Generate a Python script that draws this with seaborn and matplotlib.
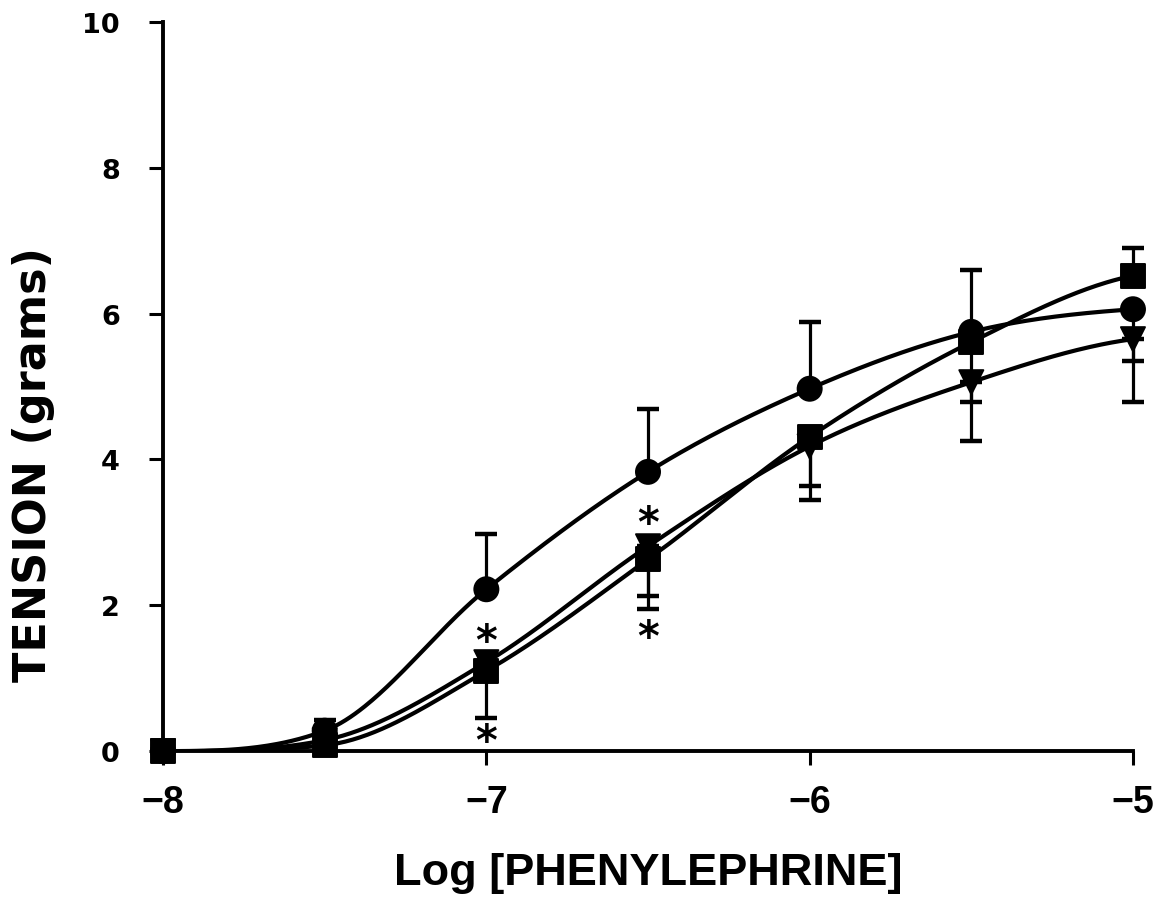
import numpy as np
import pandas as pd
import matplotlib
matplotlib.use("Agg")
import matplotlib.pyplot as plt
import seaborn as sns

# ---- data ----
log_conc = [-8, -7.5, -7, -6.5, -6, -5.5, -5]
circle = [0.0, 0.28, 2.22, 3.83, 4.97, 5.75, 6.06]
square = [0.0, 0.08, 1.10, 2.63, 4.31, 5.61, 6.52]
triangle = [0.0, 0.15, 1.22, 2.81, 4.18, 5.06, 5.65]

nan = np.nan
circle_up = [nan, 0.15, 0.76, 0.86, 0.91, 0.85, nan]
circle_down = [nan, nan, nan, nan, nan, nan, 0.71]
square_up = [nan, nan, nan, nan, nan, nan, 0.38]
square_down = [nan, nan, 0.64, 0.50, 0.68, 0.82, nan]
triangle_down = [nan, nan, nan, 0.86, 0.74, 0.81, 0.86]

star_x = [-7, -7, -6.5, -6.5]
star_y = [1.50, 0.12, 3.12, 1.55]

x_ticks = [-8, -7, -6, -5]
y_ticks = [0, 2, 4, 6, 8, 10]
x_label = "Log [PHENYLEPHRINE]"
y_label = "TENSION (grams)"


def smooth_curve(x, y, xs):
    """Monotone cubic Hermite through the points (for drawing the fitted line)."""
    x = np.asarray(x, float)
    y = np.asarray(y, float)
    h = np.diff(x)
    d = np.diff(y) / h
    n = len(x)
    m = np.zeros(n)
    for k in range(1, n - 1):
        c = (y[k + 1] - y[k - 1]) / (x[k + 1] - x[k - 1])
        lim = 3 * min(d[k - 1], d[k])
        m[k] = min(max(c, 0.0), max(lim, 0.0))
    m[0] = 0.0
    m[-1] = d[-1] * 0.5
    out = np.empty_like(xs)
    for i, xv in enumerate(xs):
        k = min(np.searchsorted(x, xv, side="right") - 1, n - 2)
        t = (xv - x[k]) / h[k]
        h00 = 2 * t**3 - 3 * t**2 + 1
        h10 = t**3 - 2 * t**2 + t
        h01 = -2 * t**3 + 3 * t**2
        h11 = t**3 - t**2
        out[i] = h00 * y[k] + h10 * h[k] * m[k] + h01 * y[k + 1] + h11 * h[k] * m[k + 1]
    return np.maximum(out, 0.0)


sns.set_theme(style="ticks")
plt.rcParams["font.family"] = ["Liberation Sans", "DejaVu Sans"]
plt.rcParams["font.weight"] = "bold"
plt.rcParams["text.color"] = "black"
plt.rcParams["axes.labelcolor"] = "black"

fig = plt.figure(figsize=(11.68, 9.04), dpi=100)
ax = fig.add_axes([0.1396, 0.168, 0.8304, 0.8066])

xs = np.linspace(-8, -5, 400)
series = [("circle", circle, "o"), ("square", square, "s"), ("triangle", triangle, "v")]
curves = pd.concat([
    pd.DataFrame({"x": xs, "y": smooth_curve(log_conc, vals, xs), "g": name})
    for name, vals, _ in series
])
sns.lineplot(data=curves, x="x", y="y", units="g", estimator=None, color="black",
             lw=3.0, ax=ax, legend=False)


def ebar(vals, up, down):
    v = np.asarray(vals)
    xarr = np.asarray(log_conc, float)
    u = np.asarray(up, float)
    d = np.asarray(down, float)
    mu = ~np.isnan(u)
    md = ~np.isnan(d)
    if mu.any():
        ax.errorbar(xarr[mu], v[mu], yerr=[np.zeros(mu.sum()), u[mu]],
                    fmt="none", ecolor="black", elinewidth=2.3, capsize=8, capthick=3.2,
                    clip_on=False)
    if md.any():
        ax.errorbar(xarr[md], v[md], yerr=[d[md], np.zeros(md.sum())],
                    fmt="none", ecolor="black", elinewidth=2.3, capsize=8, capthick=3.2,
                    clip_on=False)


ebar(circle, circle_up, circle_down)
ebar(square, square_up, square_down)
ebar(triangle, [nan] * 7, triangle_down)

pts = pd.concat([
    pd.DataFrame({"x": log_conc, "y": vals, "g": name}) for name, vals, _ in series
])
sns.scatterplot(data=pts, x="x", y="y", style="g",
                markers={"circle": "o", "square": "s", "triangle": "v"},
                color="black", edgecolor="black", s=300, ax=ax, legend=False,
                zorder=5, clip_on=False)

for sx, sy in zip(star_x, star_y):
    ax.text(sx, sy, "*", ha="center", va="center", fontsize=30, fontweight="bold",
            family="DejaVu Sans", color="black")

ax.set_xlim(-8, -5)
ax.set_ylim(0, 10)
ax.set_xticks(x_ticks)
ax.set_xticklabels([f"\u2212{abs(t)}" for t in x_ticks])
ax.set_yticks(y_ticks)
ax.set_yticklabels([str(t) for t in y_ticks])
ax.tick_params(axis="both", direction="out", length=10, width=2.2,
               color="black", labelcolor="black")
ax.tick_params(axis="y", pad=21)
ax.tick_params(axis="x", pad=14)
for lab in ax.get_yticklabels():
    lab.set_fontproperties({"family": "DejaVu Sans", "weight": "bold", "size": 19.5})
for lab in ax.get_xticklabels():
    lab.set_fontproperties({"family": "Liberation Sans", "weight": "bold", "size": 27})
ax.set_xlabel(x_label, fontsize=32.5, fontweight="bold", labelpad=23,
              family="Liberation Sans", color="black")
ax.set_ylabel(y_label, fontsize=32, fontweight="bold",
              family="DejaVu Sans", color="black")
ax.yaxis.set_label_coords(-0.111, 0.394)
sns.despine(ax=ax)
for sp in ("left", "bottom"):
    ax.spines[sp].set_linewidth(2.8)
    ax.spines[sp].set_color("black")

fig.savefig("out.png", dpi=100)
